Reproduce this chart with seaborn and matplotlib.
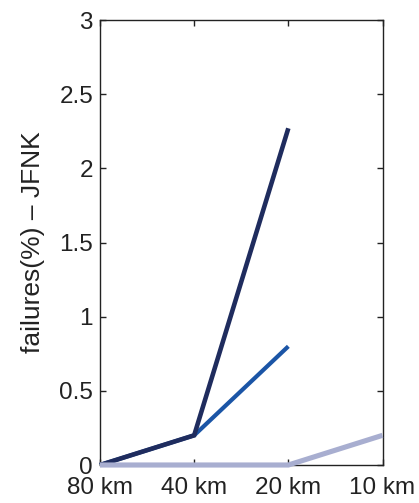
import matplotlib
matplotlib.use("Agg")
import matplotlib.pyplot as plt
import seaborn as sns
import pandas as pd

# Grid resolutions along the x axis
resolutions = ["80 km", "40 km", "20 km", "10 km"]

# Failure rates (%) of the JFNK solver for three configurations
series_a = [0.0, 0.2, 2.27]
series_b = [0.0, 0.2, 0.80]
series_c = [0.0, 0.0, 0.0, 0.2]

series_names = ["a", "b", "c"]
series_values = [series_a, series_b, series_c]
palette = {"a": "#1f2c5e", "b": "#1b55a6", "c": "#a8aed0"}
widths = {"a": 3.3, "b": 3.0, "c": 3.7}

rows = []
for name, vals in zip(series_names, series_values):
    for i, v in enumerate(vals):
        rows.append({"res": i, "failures": v, "series": name})
df = pd.DataFrame(rows)

sns.set_theme(style="white")
plt.rcParams["font.family"] = ["Liberation Sans", "DejaVu Sans"]

fig = plt.figure(figsize=(4.19, 5.03), dpi=100)
ax = fig.add_axes([100 / 419, 38 / 503, 282.5 / 419, 445 / 503])

# draw order: mid blue first, dark navy over it, light line on top
for name in ["b", "a", "c"]:
    sns.lineplot(data=df[df["series"] == name], x="res", y="failures",
                 color=palette[name], linewidth=widths[name], ax=ax, legend=False,
                 solid_capstyle="butt", solid_joinstyle="miter", clip_on=False,
                 zorder=3)

ax.set_xlim(0, 3)
ax.set_ylim(0, 3)
ax.set_xticks(range(len(resolutions)))
ax.set_xticklabels(resolutions)
ax.set_yticks([0, 0.5, 1, 1.5, 2, 2.5, 3])
ax.set_yticklabels(["0", "0.5", "1", "1.5", "2", "2.5", "3"])
ax.set_xlabel("")
ax.set_ylabel("failures(%) \u2013 JFNK", fontsize=19, color="#222222", labelpad=10)

for s in ax.spines.values():
    s.set_visible(True)
    s.set_color("#222222")
    s.set_linewidth(1.0)
    s.set_zorder(2)

ax.tick_params(axis="both", which="both", direction="in", length=4, width=1,
               color="#222222", labelsize=17.5, labelcolor="#222222",
               top=True, right=True, bottom=True, left=True)
ax.tick_params(axis="x", pad=9)
ax.tick_params(axis="y", pad=5)

fig.savefig("out.png", dpi=100)
